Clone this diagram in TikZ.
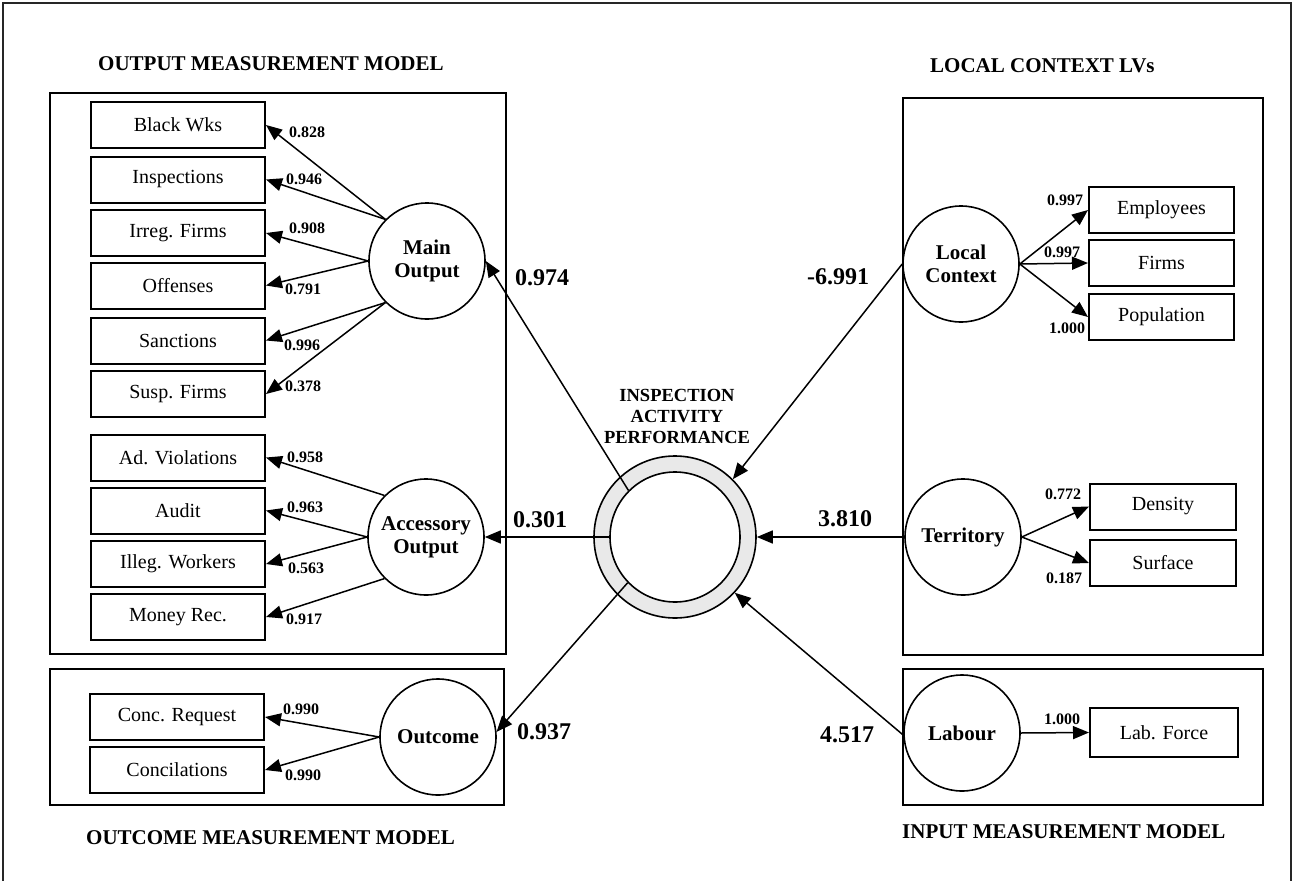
\documentclass[tikz,border=0pt]{standalone}
\usepackage{fontspec}
\setmainfont{Liberation Serif}
\usetikzlibrary{arrows.meta}

\begin{document}
\begin{tikzpicture}[x=1pt,y=-1pt,
		ind/.style={draw,line width=2pt,minimum width=174pt,minimum height=46pt,inner sep=0pt,font=\fontsize{20}{24}\selectfont},
		lv/.style={circle,draw,line width=1.6pt,minimum size=116pt,inner sep=0pt,align=center,font=\bfseries\fontsize{21}{23}\selectfont},
		grp/.style={draw,line width=2pt},
		ld/.style={font=\bfseries\fontsize{16}{18}\selectfont,inner sep=0pt},
		coef/.style={font=\bfseries\fontsize{24}{26}\selectfont,inner sep=0pt},
		head/.style={font=\bfseries\fontsize{21}{24}\selectfont,inner sep=0pt,anchor=west},
		arr/.style={-{Triangle[length=16pt,width=13pt]},line width=1.5pt}]
				\useasboundingbox (0,0) rectangle (1294,881);
				\draw[line width=1.8pt,black!85] (3,881) |- (1291,3) -- (1291,881);
				% group boxes and headings
				\draw[grp] (50,93) rectangle (506,654);
				\draw[grp] (50,669) rectangle (504,805);
				\draw[grp] (903,98) rectangle (1263,655);
				\draw[grp] (903,669) rectangle (1263,805);
				\node[head] (hout) at (98,64) {OUTPUT MEASUREMENT MODEL};
				\node[head] (hlc) at (930,66) {LOCAL CONTEXT LVs};
				\node[head] (hoc) at (86,838) {OUTCOME MEASUREMENT MODEL};
				\node[head] (hin) at (902,832) {INPUT MEASUREMENT MODEL};
				% output side
				\node[ind] (bw) at (178,125) {Black Wks};
				\node[ind] (insp) at (178,179.5) {Inspections};
				\node[ind] (irr) at (178,233) {Irreg. Firms};
				\node[ind] (off) at (178,285.5) {Offenses};
				\node[ind] (san) at (178,340.5) {Sanctions};
				\node[ind] (susp) at (178,394) {Susp. Firms};
				\node[ind] (adv) at (178,457.5) {Ad. Violations};
				\node[ind] (aud) at (178,510.5) {Audit};
				\node[ind] (ilw) at (178,564) {Illeg. Workers};
				\node[ind] (mon) at (178,617) {Money Rec.};
				\node[ind] (creq) at (177,717) {Conc. Request};
				\node[ind] (conc) at (177,770) {Concilations};
				\node[lv] (mo) at (427,261) {Main\\Output};
				\node[lv] (ao) at (426,537) {Accessory\\Output};
				\node[lv] (oc) at (438,737) {Outcome};
				\draw[arr] (mo.135) -- (bw.east) node[ld] (l1) at (307,132) {0.828};
				\draw[arr] (mo.135) -- (insp.east) node[ld] (l2) at (304,179) {0.946};
				\draw[arr] (mo.180) -- (irr.east) node[ld] (l3) at (307,228) {0.908};
				\draw[arr] (mo.180) -- (off.east) node[ld] (l4) at (303,289) {0.791};
				\draw[arr] (mo.225) -- (san.east) node[ld] (l5) at (302,345) {0.996};
				\draw[arr] (mo.225) -- (susp.east) node[ld] (l6) at (303,386) {0.378};
				\draw[arr] (ao.135) -- (adv.east) node[ld] (l7) at (305,457) {0.958};
				\draw[arr] (ao.180) -- (aud.east) node[ld] (l8) at (305,507) {0.963};
				\draw[arr] (ao.180) -- (ilw.east) node[ld] (l9) at (306,568) {0.563};
				\draw[arr] (ao.225) -- (mon.east) node[ld] (l10) at (304,619) {0.917};
				\draw[arr] (oc.180) -- (creq.east) node[ld] (l11) at (301,709) {0.990};
				\draw[arr] (oc.180) -- (conc.east) node[ld] (l12) at (303,775) {0.990};
				% input side
				\node[ind,minimum width=145pt] (emp) at (1161.5,210) {Employees};
				\node[ind,minimum width=145pt] (firms) at (1161.5,263) {Firms};
				\node[ind,minimum width=145pt] (pop) at (1161.5,317) {Population};
				\node[ind,minimum width=146pt] (dens) at (1163,506.5) {Density};
				\node[ind,minimum width=146pt] (surf) at (1163,563) {Surface};
				\node[ind,minimum width=148pt,minimum height=49pt] (labf) at (1164,732.5) {Lab. Force};
				\node[lv] (lc) at (961,264) {Local\\Context};
				\node[lv] (ter) at (963,537) {Territory};
				\node[lv] (lab) at (962,733) {Labour};
				\draw[arr] (lc.east) -- (emp.west) node[ld] (r1) at (1065,200) {0.997};
				\draw[arr] (lc.east) -- (firms.west) node[ld] (r2) at (1062,252) {0.997};
				\draw[arr] (lc.east) -- (pop.west) node[ld] (r3) at (1067,328) {1.000};
				\draw[arr] (ter.east) -- (dens.west) node[ld] (r4) at (1063,494) {0.772};
				\draw[arr] (ter.east) -- (surf.west) node[ld] (r5) at (1064,578) {0.187};
				\draw[arr] (lab.east) -- (labf.west) node[ld] (r6) at (1062,719) {1.000};
				% inner model
				\node[circle,draw,line width=1.6pt,fill=gray!17,minimum size=162pt,inner sep=0pt] (perf) at (675,537) {};
				\node[circle,draw,line width=1.6pt,fill=white,minimum size=130pt,inner sep=0pt] (perfin) at (675,537) {};
				\node[align=center,font=\bfseries\fontsize{18.5}{21}\selectfont] (perflab) at (677,416) {INSPECTION\\ACTIVITY\\PERFORMANCE};
				\draw[arr] (perfin.135) -- (mo.east) node[coef] (s1) at (542,278) {0.974};
				\draw[arr] (perfin.180) -- (ao.east) node[coef] (s2) at (540,520) {0.301};
				\draw[arr] (perfin.224) -- (oc.5) node[coef] (s3) at (544,732) {0.937};
				\draw[arr] (lc.180) -- (perf.45) node[coef] (s4) at (838,277) {-6.991};
				\draw[arr] (ter.west) -- (perf.east) node[coef] (s5) at (845,519) {3.810};
				\draw[arr] (lab.182) -- (perf.-43) node[coef] (s6) at (847,735) {4.517};
			\end{tikzpicture}
\end{document}
